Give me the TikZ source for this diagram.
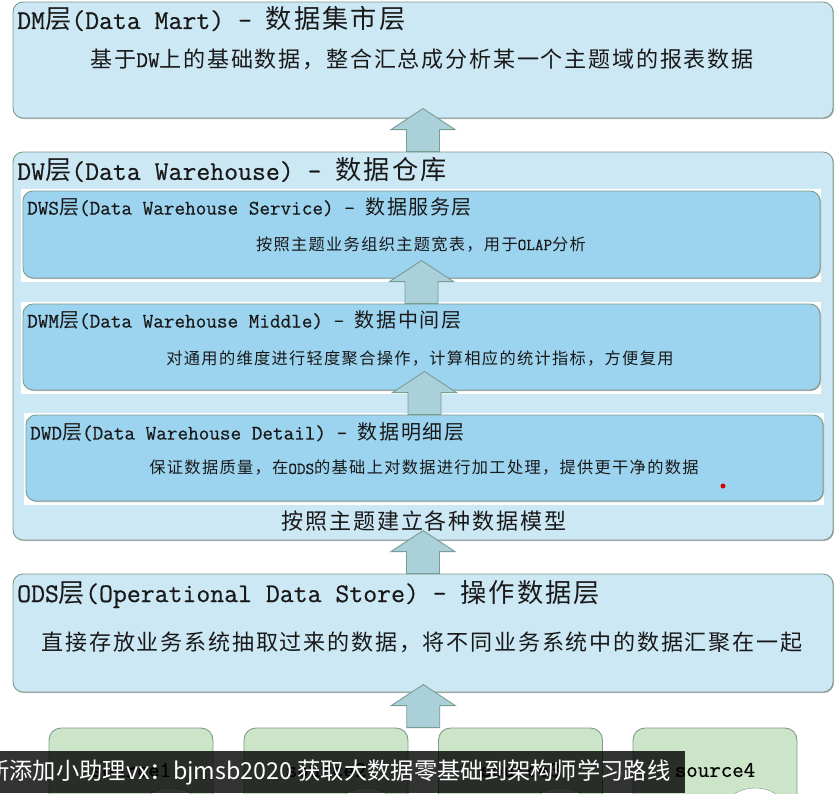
\documentclass[tikz,border=0pt]{standalone}
\usepackage{fontspec}
\usepackage{tikz}
\usetikzlibrary{calc,shadows}

\setmonofont{Latin Modern Mono}[FakeBold=0.6]
\newfontfamily\cjk{Noto Sans CJK SC}[Scale=0.972,LetterSpace=8]
\newfontfamily\bannerfont{Noto Sans CJK SC}
\newcommand{\zh}[1]{{\cjk #1}}

\definecolor{layerblue}{RGB}{205,232,245}
\definecolor{subblue}{RGB}{156,212,239}
\definecolor{edgegray}{RGB}{126,154,138}
\definecolor{liftfill}{RGB}{170,209,217}
\definecolor{liftedge}{RGB}{122,156,150}
\definecolor{srcgreen}{RGB}{204,228,200}

\tikzset{
  layerbox/.style={draw=edgegray, fill=layerblue, line width=0.9pt, rounded corners=10pt, inner sep=0pt,
    drop shadow={shadow xshift=1pt, shadow yshift=-1pt, opacity=0.3, fill=black}},
  subbox/.style={layerbox, fill=subblue},
  srcbox/.style={draw=edgegray, fill=srcgreen, line width=0.9pt, rounded corners=12pt, inner sep=0pt,
    minimum width=164, minimum height=80},
  bigtitle/.style={anchor=west, inner sep=0pt, text=black!90, font=\ttfamily\fontsize{27}{30}\selectfont},
  subtitle/.style={bigtitle, font=\ttfamily\fontsize{20.6}{24}\selectfont},
  bigtext/.style={inner sep=0pt, text=black!90, font=\ttfamily\fontsize{22.7}{26}\selectfont},
  subtext/.style={bigtext, font=\ttfamily\fontsize{16.7}{20}\selectfont},
  liftarrow/.style={draw=liftedge, fill=liftfill, line width=0.9pt, line join=miter},
}

% block arrow standing on a point, pointing up
\newcommand{\uplift}[1]{%
  \draw[liftarrow] ($#1+(-16.5,0)$) -- ++(0,-22) -- ++(-15.5,0) -- ++(32,-21)
    -- ++(32,21) -- ++(-15.5,0) -- ++(0,22) -- cycle;}

\begin{document}
\begin{tikzpicture}[x=1pt,y=-1pt]
\useasboundingbox (0,0) rectangle (840,793);

% data mart
\node[layerbox, minimum width=820, minimum height=116] (dm) at (423,60) {};
\node[bigtitle] (dmtitle) at (17,19) {DM\zh{层}(Data Mart) - \zh{数据集市层}};
\node[bigtext] (dmtext) at (422,59) {\zh{基于}DW\zh{上的基础数据，整合汇总成分析某一个主题域的报表数据}};

% data warehouse
\node[layerbox, minimum width=820, minimum height=388] (dw) at (423,346) {};
\node[bigtitle] (dwtitle) at (17,170) {DW\zh{层}(Data Warehouse) - \zh{数据仓库}};

\foreach \nm/\l/\t/\r/\b in {dws/23/191/820/278, dwm/23/304/820/390, dwd/26/415/823/501}{
  \fill[white] (\l-2,\t-2) rectangle (\r+1,\b+4);
  \node[subbox, minimum width=\r-\l, minimum height=\b-\t] (\nm) at ({(\l+\r)/2},{(\t+\b)/2}) {};
}

\node[subtitle] (dwstitle) at (27,207) {DWS\zh{层}(Data Warehouse Service) - \zh{数据服务层}};
\node[subtext] (dwstext) at (421,244) {\zh{按照主题业务组织主题宽表，用于}OLAP\zh{分析}};

\node[subtitle] (dwmtitle) at (27,320) {DWM\zh{层}(Data Warehouse Middle) - \zh{数据中间层}};
\node[subtext] (dwmtext) at (420,358) {\zh{对通用的维度进行轻度聚合操作，计算相应的统计指标，方便复用}};

\node[subtitle] (dwdtitle) at (30,432) {DWD\zh{层}(Data Warehouse Detail) - \zh{数据明细层}};
\node[subtext] (dwdtext) at (424,468) {\zh{保证数据质量，在}ODS\zh{的基础上对数据进行加工处理，提供更干净的数据}};
\fill[red!85!black] (723,486) circle (2.5);

\node[bigtext] (dwtext) at (424,521) {\zh{按照主题建立各种数据模型}};

% operational data store
\node[layerbox, minimum width=820, minimum height=118] (ods) at (423,633) {};
\node[bigtitle] (odstitle) at (17,594) {ODS\zh{层}(Operational Data Store) - \zh{操作数据层}};
\node[bigtext] (odstext) at (422,642) {\zh{直接存放业务系统抽取过来的数据，将不同业务系统中的数据汇聚在一起}};

% sources
\foreach \i/\x in {1/131,2/326,3/520.5,4/715}{
  \node[srcbox] (src\i) at (\x,768) {};
  \node[inner sep=0pt, font=\ttfamily\fontsize{22.3}{26}\selectfont] (srclabel\i) at (\x,770) {source\i};
  \draw[edgegray, fill=white] (\x+40,805) ellipse [x radius=27, y radius=17];
}
\coordinate (srctop) at ($(src2.north east)!0.5!(src3.north west)$);

% arrows between layers
\uplift{(dw.north)}
\uplift{(dwm.north)}
\uplift{(dwd.north)}
\uplift{(ods.north)}
\uplift{(srctop)}

% caption band
\fill[black, opacity=0.8] (0,751) rectangle (685,793);
\node[anchor=west, inner sep=0pt, text=white, font=\bannerfont\fontsize{23.3}{27}\selectfont] (banner) at (-14,772)
  {新添加小助理vx：bjmsb2020 获取大数据零基础到架构师学习路线};

\end{tikzpicture}
\end{document}
